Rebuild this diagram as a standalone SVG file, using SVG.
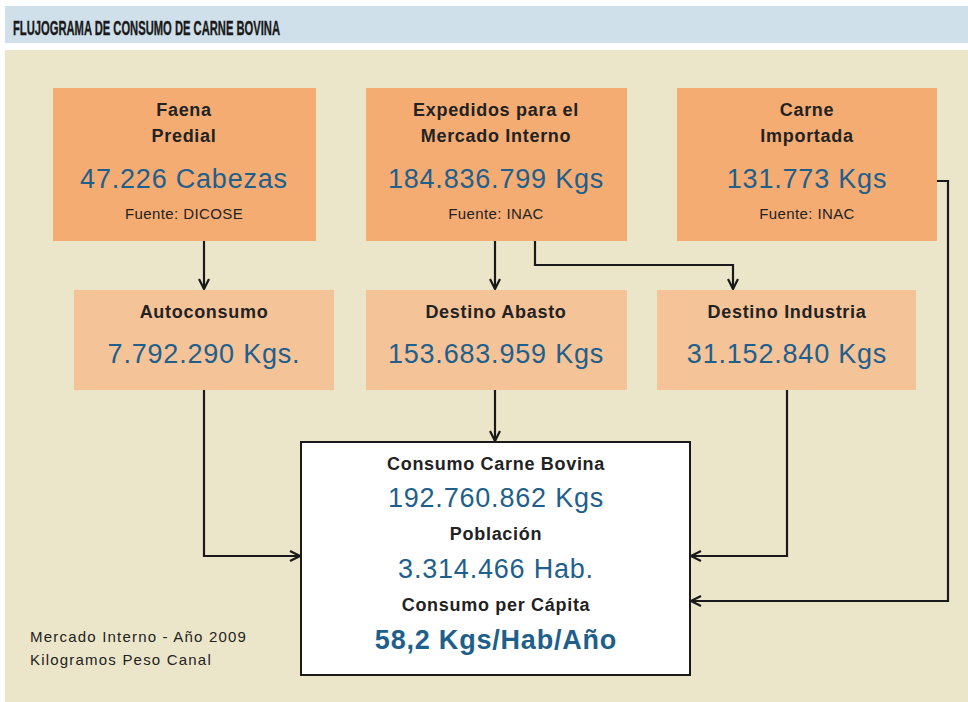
<svg xmlns="http://www.w3.org/2000/svg" width="968" height="702" viewBox="0 0 968 702">
<defs>
<marker id="ah" viewBox="0 0 12 12" refX="11" refY="6" markerWidth="12" markerHeight="12" markerUnits="userSpaceOnUse" orient="auto">
<path d="M1,1 L11,6 L1,11" fill="none" stroke="#1a1a1a" stroke-width="2.2"/>
</marker>
<style>
.top{fill:#f4ac72}
.mid{fill:#f5c398}
.lbl{font-family:"Liberation Sans",Arial,sans-serif;font-weight:bold;font-size:18px;letter-spacing:0.7px;fill:#222;text-anchor:middle}
.val{font-family:"Liberation Sans",Arial,sans-serif;font-size:27px;letter-spacing:0.8px;fill:#1f5f8c;text-anchor:middle}
.src{font-family:"Liberation Sans",Arial,sans-serif;font-size:15px;letter-spacing:0.4px;fill:#222;text-anchor:middle}
.note{font-family:"Liberation Sans",Arial,sans-serif;font-size:15px;letter-spacing:1.2px;fill:#222}
.con{fill:none;stroke:#1a1a1a;stroke-width:2.2}
</style>
</defs>
<rect width="968" height="702" fill="#ffffff"/>
<rect x="5" y="6" width="963" height="37" fill="#cfe0ea"/>
<text x="13" y="35" font-family="Liberation Sans Narrow,Liberation Sans,Arial,sans-serif" font-weight="bold" font-size="21" fill="#1a1a1a" stroke="#1a1a1a" stroke-width="0.4" textLength="267" lengthAdjust="spacingAndGlyphs">FLUJOGRAMA DE CONSUMO DE CARNE BOVINA</text>
<rect x="5" y="50" width="963" height="652" fill="#ebe6c9"/>

<g id="faena">
<rect class="top" x="53" y="88" width="263" height="153"/>
<text class="lbl" x="184" y="116">Faena</text>
<text class="lbl" x="184" y="142">Predial</text>
<text class="val" x="184" y="188">47.226 Cabezas</text>
<text class="src" x="184" y="219">Fuente: DICOSE</text>
</g>
<g id="expedidos">
<rect class="top" x="366" y="88" width="261" height="153"/>
<text class="lbl" x="496" y="116">Expedidos para el</text>
<text class="lbl" x="496" y="142">Mercado Interno</text>
<text class="val" x="496" y="188">184.836.799 Kgs</text>
<text class="src" x="496" y="219">Fuente: INAC</text>
</g>
<g id="importada">
<rect class="top" x="677" y="88" width="260" height="153"/>
<text class="lbl" x="807" y="116">Carne</text>
<text class="lbl" x="807" y="142">Importada</text>
<text class="val" x="807" y="188">131.773 Kgs</text>
<text class="src" x="807" y="219">Fuente: INAC</text>
</g>
<g id="autoconsumo">
<rect class="mid" x="74" y="290" width="260" height="100"/>
<text class="lbl" x="204" y="318">Autoconsumo</text>
<text class="val" x="204" y="363">7.792.290 Kgs.</text>
</g>
<g id="abasto">
<rect class="mid" x="366" y="290" width="261" height="100"/>
<text class="lbl" x="496" y="318">Destino Abasto</text>
<text class="val" x="496" y="363">153.683.959 Kgs</text>
</g>
<g id="industria">
<rect class="mid" x="657" y="290" width="259" height="100"/>
<text class="lbl" x="787" y="318">Destino Industria</text>
<text class="val" x="787" y="363">31.152.840 Kgs</text>
</g>
<g id="consumo">
<rect x="301" y="442" width="389" height="233" fill="#ffffff" stroke="#1a1a1a" stroke-width="2"/>
<text class="lbl" x="496" y="470">Consumo Carne Bovina</text>
<text class="val" x="496" y="507">192.760.862 Kgs</text>
<text class="lbl" x="496" y="540">Población</text>
<text class="val" x="496" y="578">3.314.466 Hab.</text>
<text class="lbl" x="496" y="611">Consumo per Cápita</text>
<text class="val" x="496" y="649" font-weight="bold" font-size="26" letter-spacing="0">58,2 Kgs/Hab/Año</text>
</g>
<g id="notes">
<text class="note" x="30" y="642">Mercado Interno - Año 2009</text>
<text class="note" x="30" y="665">Kilogramos Peso Canal</text>
</g>
<g id="connectors">
<path class="con" d="M204,241 V289" marker-end="url(#ah)"/>
<path class="con" d="M495,241 V289" marker-end="url(#ah)"/>
<path class="con" d="M535,241 V265 H733 V289" marker-end="url(#ah)"/>
<path class="con" d="M937,181 H948 V601 H691" marker-end="url(#ah)"/>
<path class="con" d="M204,390 V556 H300" marker-end="url(#ah)"/>
<path class="con" d="M495,390 V441" marker-end="url(#ah)"/>
<path class="con" d="M787,390 V556 H691" marker-end="url(#ah)"/>
</g>
</svg>
